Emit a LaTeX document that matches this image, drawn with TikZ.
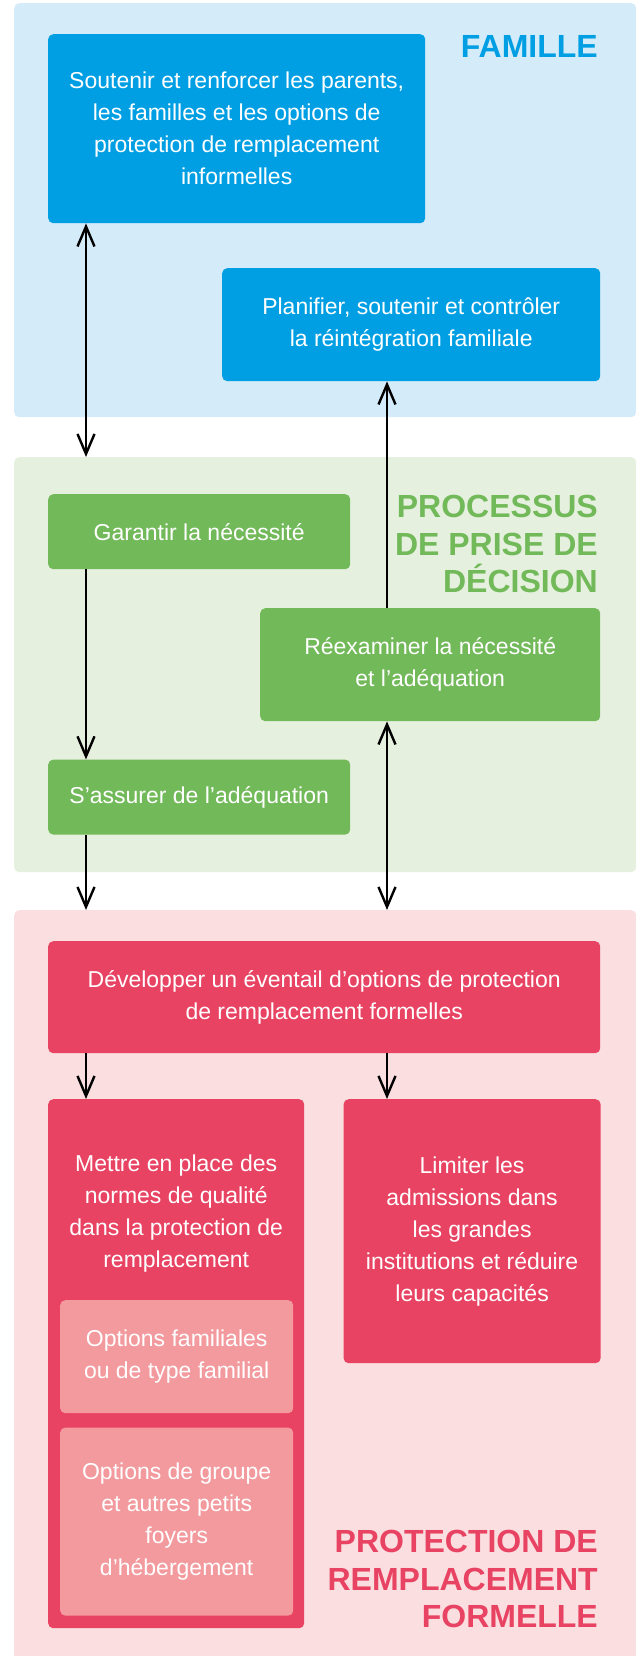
\documentclass[tikz,border=0pt]{standalone}
\usepackage{fontspec}
\setmainfont{Liberation Sans}
\usepackage{tikz}
\usetikzlibrary{positioning,arrows.meta,calc}
\definecolor{famblue}{RGB}{0,159,227}
\definecolor{famlight}{RGB}{212,235,249}
\definecolor{decgreen}{RGB}{114,185,90}
\definecolor{declight}{RGB}{230,240,223}
\definecolor{protred}{RGB}{232,67,98}
\definecolor{protlight}{RGB}{250,222,224}
\definecolor{protpink}{RGB}{242,154,158}

\begin{document}
\begin{tikzpicture}[
    x=1pt, y=-1pt,
    >={Straight Barb[length=20pt, width=17pt]},
    panel/.style={rectangle, rounded corners=5pt, inner sep=0pt, minimum width=622pt, anchor=north west},
    box/.style={rectangle, rounded corners=5pt, text=white, align=center, inner sep=0pt, font=\fontsize{23}{32}\selectfont},
    famtitle/.style={anchor=north east, align=right, inner sep=0pt, font=\fontsize{32}{37.5}\selectfont\bfseries},
    arrow/.style={line width=2.4pt, black}
]
    \useasboundingbox (0,0) rectangle (636,1656);

    % Panels
    \node[panel, fill=famlight, minimum height=414pt] (famille) at (14,3) {};
    \node[panel, fill=declight, minimum height=415pt] (processus) at (14,457) {};
    \node[panel, fill=protlight, minimum height=760pt] (protection) at (14,910) {};

    \node[famtitle, text=famblue] (famlabel) at (598,35) {FAMILLE};
    \node[famtitle, text=decgreen] (proclabel) at (598,495) {PROCESSUS\\DE PRISE DE\\DÉCISION};
    \node[famtitle, text=protred] (protlabel) at (598,1530) {PROTECTION DE\\REMPLACEMENT\\FORMELLE};

    % Famille
    \node[box, fill=famblue, anchor=north west, minimum width=377pt, minimum height=189pt] (soutenir) at (48,34)
        {Soutenir et renforcer les parents,\\les familles et les options de\\protection de remplacement\\informelles};
    \node[box, fill=famblue, anchor=north west, minimum width=378pt, minimum height=113pt] (planifier) at (222,268)
        {Planifier, soutenir et contrôler\\la réintégration familiale};

    % Processus de prise de decision
    \node[box, fill=decgreen, anchor=north west, minimum width=302pt, minimum height=75pt] (garantir) at (48,494)
        {Garantir la nécessité};
    \node[box, fill=decgreen, below=190pt of garantir, minimum width=302pt, minimum height=75pt] (sassurer)
        {S’assurer de l’adéquation};
    \node[box, fill=decgreen, anchor=north west, minimum width=340pt, minimum height=113pt] (reexaminer) at (260,608)
        {Réexaminer la nécessité\\et l’adéquation};

    % Protection de remplacement formelle
    \node[box, fill=protred, anchor=north west, minimum width=552pt, minimum height=112pt] (developper) at (48,941)
        {Développer un éventail d’options de protection\\de remplacement formelles};
    \node[box, fill=protred, anchor=north west, minimum width=256pt, minimum height=529pt] (mettre) at (48,1099) {};
    \node[box, below=56pt of mettre.north] (mettretxt)
        {Mettre en place des\\normes de qualité\\dans la protection de\\remplacement};
    \node[box, fill=protred, right=39pt of mettre.north east, anchor=north west, minimum width=257pt, minimum height=264pt] (limiter)
        {Limiter les\\admissions dans\\les grandes\\institutions et réduire\\leurs capacités};
    \node[box, fill=protpink, anchor=north west, minimum width=233pt, minimum height=113pt] (optfam) at (60,1300)
        {Options familiales\\ou de type familial};
    \node[box, fill=protpink, below=14pt of optfam, minimum width=233pt, minimum height=188pt] (optgroupe)
        {Options de groupe\\et autres petits\\foyers\\d’hébergement};

    % Arrows
    \coordinate (lcol) at (86,0);
    \coordinate (rcol) at (387,0);
    \draw[arrow, <->] (soutenir.south -| lcol) -- (processus.north -| lcol);
    \draw[arrow, ->] (reexaminer.north -| rcol) -- (planifier.south -| rcol);
    \draw[arrow, ->] (garantir.south -| lcol) -- (sassurer.north -| lcol);
    \draw[arrow, ->] (sassurer.south -| lcol) -- (protection.north -| lcol);
    \draw[arrow, <->] (reexaminer.south -| rcol) -- (protection.north -| rcol);
    \draw[arrow, ->] (developper.south -| lcol) -- (mettre.north -| lcol);
    \draw[arrow, ->] (developper.south -| rcol) -- (limiter.north -| rcol);
\end{tikzpicture}
\end{document}
